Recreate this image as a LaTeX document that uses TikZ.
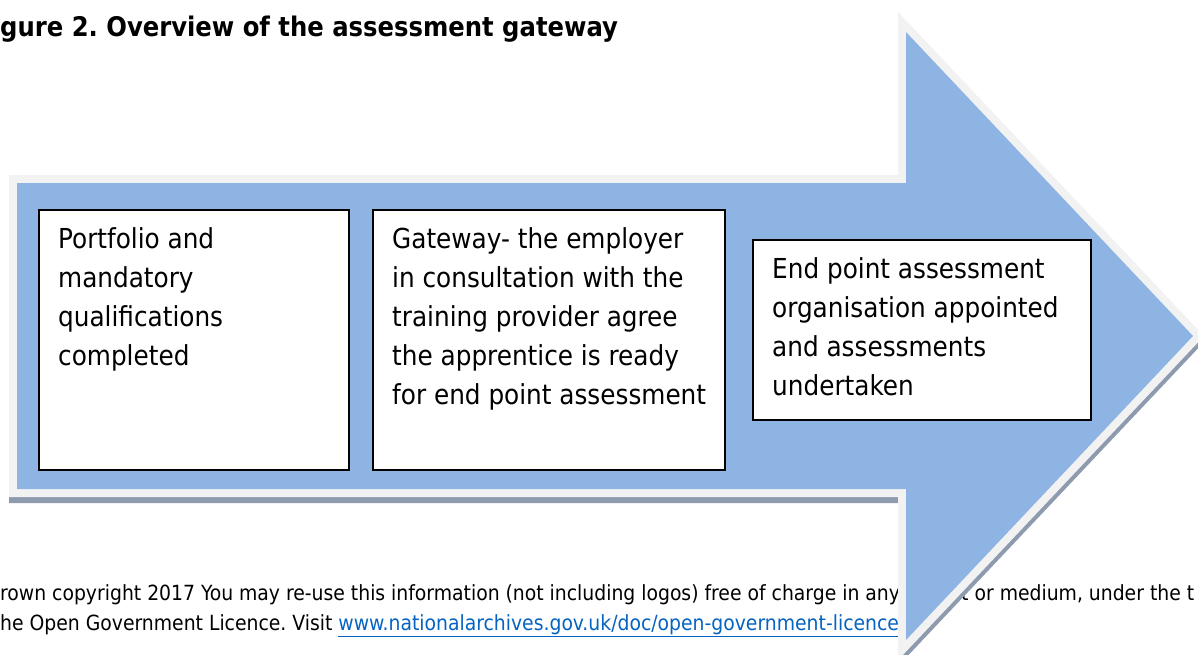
\documentclass[tikz,border=0pt]{standalone}
\usepackage{fontspec}
\setmainfont{DejaVu Sans Condensed}
\usepackage{tikz}
\usetikzlibrary{positioning,calc}
\definecolor{arrowblue}{RGB}{142,180,227}
\definecolor{arrowrim}{RGB}{242,242,242}
\definecolor{arrowshade}{RGB}{142,155,175}
\definecolor{linkblue}{RGB}{5,99,193}
\frenchspacing

\begin{document}
\begin{tikzpicture}[x=1pt,y=-1pt,
  stagebox/.style={draw=black,line width=1.5pt,fill=white,anchor=north west,inner sep=0pt},
  stagetext/.style={anchor=north west,align=left,inner sep=0pt,font=\fontsize{27.5}{39}\selectfont},
  footnote/.style={anchor=base west,inner sep=0pt,font=\fontsize{20.9}{30}\selectfont}]
\useasboundingbox (0,0) rectangle (1198,654);
\clip (0,0) rectangle (1198,654);

% title
\node[anchor=base west,inner sep=0pt,font=\bfseries\fontsize{27}{32}\selectfont] (title) at (0,36) {gure 2. Overview of the assessment gateway};

% footer, partly under the arrow
\node[footnote] (copy1) at (0,600) {rown copyright 2017 You may re-use this information (not including logos) free of charge in any format or medium, under the t};
\node[footnote] (copy2) at (0,630) {he Open Government Licence. Visit \textcolor{linkblue}{\underline{www.nationalarchives.gov.uk/doc/open-government-licence}}};

% the big arrow
\path[fill=arrowblue,
  preaction={fill=arrowshade,draw=arrowshade,line width=16pt,line join=miter,transform canvas={yshift=-6pt}},
  preaction={draw=arrowrim,line width=16pt,line join=miter}]
  (17,183) -- (906,183) -- (906,32) -- (1193,336) -- (906,640) -- (906,489) -- (17,489) -- cycle;

% stages
\node[stagebox,minimum width=310,minimum height=260] (stage1) at (38,209) {};
\node[stagebox,minimum width=352,minimum height=260] (stage2) at (372,209) {};
\node[stagebox,minimum width=338,minimum height=180] (stage3) at (752,239) {};

\node[stagetext] (text1) at ([shift={(20,18)}]stage1.north west) {Portfolio and\\mandatory\\qualifications\\completed};
\node[stagetext] (text2) at ([shift={(20,18)}]stage2.north west) {Gateway- the employer\\in consultation with the\\training provider agree\\the apprentice is ready\\for end point assessment};
\node[stagetext] (text3) at ([shift={(20,18)}]stage3.north west) {End point assessment\\organisation appointed\\and assessments\\undertaken};
\end{tikzpicture}
\end{document}
